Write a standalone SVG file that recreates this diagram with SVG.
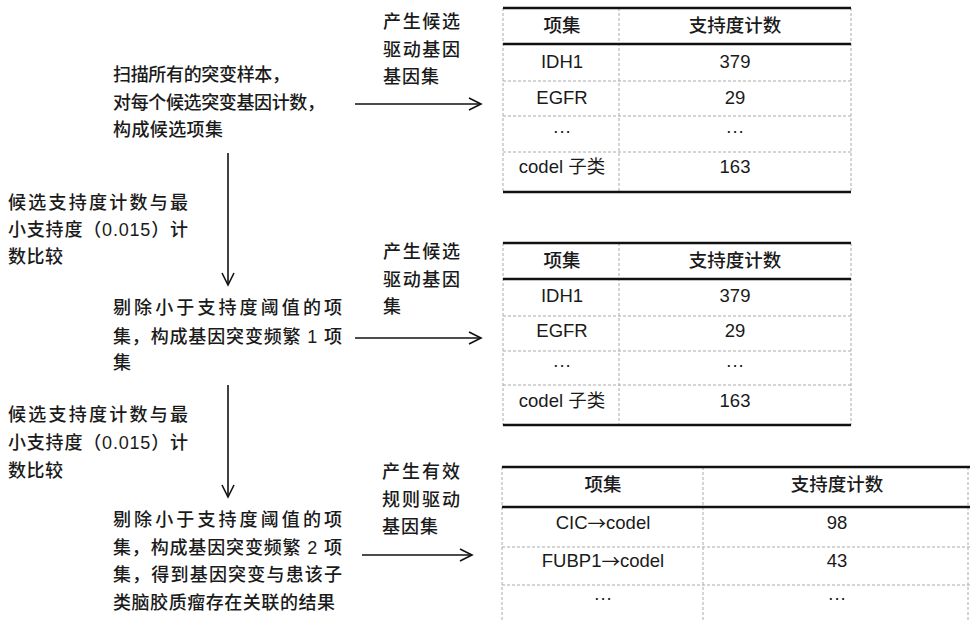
<svg xmlns="http://www.w3.org/2000/svg" width="970" height="620" viewBox="0 0 970 620">
<style>
text{font-family:"Liberation Sans","Noto Sans CJK SC",sans-serif;font-size:18px;fill:#1a1a1a;dominant-baseline:central}
.c{text-anchor:middle}
.t{font-weight:500}
.tb text{font-size:18.5px}
.ar{font-family:"Noto Sans CJK SC",sans-serif}
.thick{stroke:#111;stroke-width:2.5;fill:none}
.dash{stroke:#aaa;stroke-width:1;stroke-dasharray:3 2;fill:none}
.conn{stroke:#111;stroke-width:1.6;fill:none;marker-end:url(#ah)}
</style>
<defs>
<marker id="ah" markerUnits="userSpaceOnUse" markerWidth="16" markerHeight="16" refX="13" refY="7" orient="auto">
<path d="M1,1 L13,7 L1,13" fill="none" stroke="#111" stroke-width="1.6"/>
</marker>
</defs>
<rect width="970" height="620" fill="#fff"/>

<g id="step1" class="t">
<text x="113" y="75" textLength="177" lengthAdjust="spacing">扫描所有的突变样本，</text>
<text x="113" y="103" textLength="212" lengthAdjust="spacing">对每个候选突变基因计数，</text>
<text x="113" y="130" textLength="110" lengthAdjust="spacing">构成候选项集</text>
</g>
<g id="cond1" class="t">
<text x="8" y="203" textLength="180" lengthAdjust="spacing">候选支持度计数与最</text>
<text x="8" y="230" textLength="180" lengthAdjust="spacing">小支持度（0.015）计</text>
<text x="8" y="257" textLength="55" lengthAdjust="spacing">数比较</text>
</g>
<g id="step2" class="t">
<text x="113" y="308" textLength="229" lengthAdjust="spacing">剔除小于支持度阈值的项</text>
<text x="113" y="337" textLength="229" lengthAdjust="spacing">集，构成基因突变频繁 1 项</text>
<text x="113" y="363">集</text>
</g>
<g id="cond2" class="t">
<text x="8" y="415" textLength="180" lengthAdjust="spacing">候选支持度计数与最</text>
<text x="8" y="443" textLength="180" lengthAdjust="spacing">小支持度（0.015）计</text>
<text x="8" y="471" textLength="55" lengthAdjust="spacing">数比较</text>
</g>
<g id="step3" class="t">
<text x="113" y="520" textLength="229" lengthAdjust="spacing">剔除小于支持度阈值的项</text>
<text x="113" y="548" textLength="229" lengthAdjust="spacing">集，构成基因突变频繁 2 项</text>
<text x="113" y="575" textLength="229" lengthAdjust="spacing">集，得到基因突变与患该子</text>
<text x="113" y="603" textLength="222" lengthAdjust="spacing">类脑胶质瘤存在关联的结果</text>
</g>

<g id="label1" class="t">
<text x="383" y="22" textLength="77" lengthAdjust="spacing">产生候选</text>
<text x="383" y="50" textLength="77" lengthAdjust="spacing">驱动基因</text>
<text x="383" y="77" textLength="56" lengthAdjust="spacing">基因集</text>
</g>
<g id="label2" class="t">
<text x="383" y="252" textLength="77" lengthAdjust="spacing">产生候选</text>
<text x="383" y="280" textLength="77" lengthAdjust="spacing">驱动基因</text>
<text x="383" y="307">集</text>
</g>
<g id="label3" class="t">
<text x="382" y="472" textLength="78" lengthAdjust="spacing">产生有效</text>
<text x="382" y="500" textLength="78" lengthAdjust="spacing">规则驱动</text>
<text x="382" y="527" textLength="56" lengthAdjust="spacing">基因集</text>
</g>

<g id="connectors">
<line class="conn" x1="355" y1="104" x2="481" y2="104"/>
<line class="conn" x1="355" y1="338" x2="481" y2="338"/>
<line class="conn" x1="362" y1="555" x2="472" y2="555"/>
<line class="conn" x1="228" y1="153" x2="228" y2="285"/>
<line class="conn" x1="228" y1="385" x2="228" y2="497"/>
</g>

<g id="table1" class="tb">
<line class="dash" x1="503" y1="8" x2="503" y2="192"/>
<line class="dash" x1="619" y1="8" x2="619" y2="192"/>
<line class="dash" x1="851" y1="8" x2="851" y2="192"/>
<line class="dash" x1="503" y1="81" x2="851" y2="81"/>
<line class="dash" x1="503" y1="116" x2="851" y2="116"/>
<line class="dash" x1="503" y1="152" x2="851" y2="152"/>
<line class="thick" x1="503" y1="8" x2="851" y2="8"/>
<line class="thick" x1="503" y1="44" x2="851" y2="44"/>
<line class="thick" x1="503" y1="192" x2="851" y2="192"/>
<text class="c t" x="562" y="25">项集</text>
<text class="c t" x="735" y="25">支持度计数</text>
<text class="c" x="562" y="61">IDH1</text>
<text class="c" x="735" y="61">379</text>
<text class="c" x="562" y="97">EGFR</text>
<text class="c" x="735" y="97">29</text>
<text class="c" x="562" y="130">···</text>
<text class="c" x="735" y="130">···</text>
<text class="c" x="562" y="166">codel 子类</text>
<text class="c" x="735" y="166">163</text>
</g>

<g id="table2" class="tb">
<line class="dash" x1="503" y1="243" x2="503" y2="425"/>
<line class="dash" x1="619" y1="243" x2="619" y2="425"/>
<line class="dash" x1="851" y1="243" x2="851" y2="425"/>
<line class="dash" x1="503" y1="316" x2="851" y2="316"/>
<line class="dash" x1="503" y1="351" x2="851" y2="351"/>
<line class="dash" x1="503" y1="385" x2="851" y2="385"/>
<line class="thick" x1="503" y1="243" x2="851" y2="243"/>
<line class="thick" x1="503" y1="279" x2="851" y2="279"/>
<line class="thick" x1="503" y1="425" x2="851" y2="425"/>
<text class="c t" x="562" y="260">项集</text>
<text class="c t" x="735" y="260">支持度计数</text>
<text class="c" x="562" y="295">IDH1</text>
<text class="c" x="735" y="295">379</text>
<text class="c" x="562" y="330">EGFR</text>
<text class="c" x="735" y="330">29</text>
<text class="c" x="562" y="364">···</text>
<text class="c" x="735" y="364">···</text>
<text class="c" x="562" y="400">codel 子类</text>
<text class="c" x="735" y="400">163</text>
</g>

<g id="table3" class="tb">
<line class="dash" x1="502" y1="467" x2="502" y2="620"/>
<line class="dash" x1="703" y1="467" x2="703" y2="620"/>
<line class="dash" x1="968" y1="467" x2="968" y2="620"/>
<line class="dash" x1="502" y1="547" x2="970" y2="547"/>
<line class="dash" x1="502" y1="585" x2="970" y2="585"/>
<line class="thick" x1="502" y1="467" x2="970" y2="467"/>
<line class="thick" x1="502" y1="507" x2="970" y2="507"/>
<text class="c t" x="603" y="484">项集</text>
<text class="c t" x="837" y="484">支持度计数</text>
<text class="c" x="603" y="522">CIC<tspan class="ar">→</tspan>codel</text>
<text class="c" x="837" y="522">98</text>
<text class="c" x="603" y="560">FUBP1<tspan class="ar">→</tspan>codel</text>
<text class="c" x="837" y="560">43</text>
<text class="c" x="603" y="597">···</text>
<text class="c" x="837" y="597">···</text>
</g>
</svg>
